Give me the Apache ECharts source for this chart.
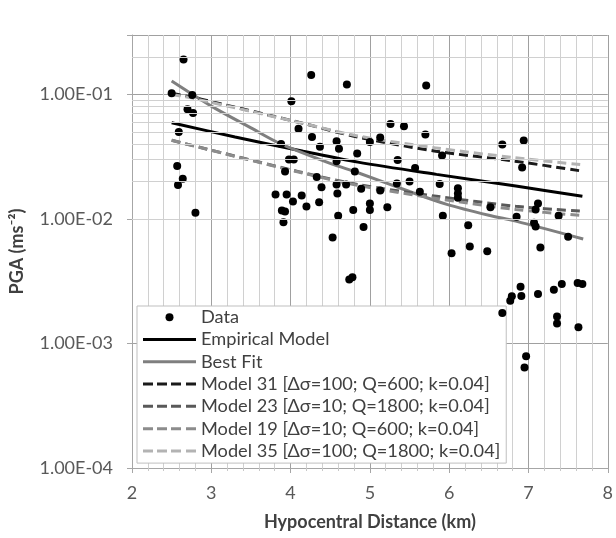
<!DOCTYPE html>
<html><head><meta charset="utf-8">
<script src="https://cdn.jsdelivr.net/npm/echarts@6/dist/echarts.min.js"></script>
<style>html,body{margin:0;padding:0;background:#fff}#c{width:616px;height:538px}</style>
</head><body><div id="c"></div>
<script>
// ---- data ----
const dataX = [2.65,2.50,2.76,2.70,2.77,2.59,2.57,2.64,2.58,2.80,
  4.01,4.10,3.88,3.98,4.04,3.93,3.81,3.95,4.03,3.89,3.93,3.91,4.14,
  4.26,4.27,4.37,4.58,4.61,4.58,4.33,4.39,4.58,4.59,4.20,4.36,4.53,4.60,
  4.71,4.84,4.81,4.70,4.89,4.79,5.00,5.13,5.00,5.00,4.92,4.74,4.78,5.13,5.22,5.26,5.34,5.35,
  5.43,5.50,5.57,5.63,5.70,5.71,5.88,5.91,5.92,6.03,6.11,6.11,6.11,6.24,6.26,
  6.48,6.52,6.67,6.94,6.92,6.85,7.07,7.09,7.12,7.09,7.38,7.50,7.15,6.90,6.91,6.79,6.77,
  7.12,7.32,7.42,7.62,7.68,7.36,7.36,7.63,6.97,6.95,6.67];
const dataY = [0.191,0.102,0.099,0.076,0.071,0.050,0.0266,0.021,0.0187,0.0112,
  0.088,0.053,0.040,0.030,0.030,0.024,0.0157,0.0157,0.0138,0.0117,0.0115,0.0094,0.0154,
  0.143,0.0455,0.038,0.042,0.0366,0.029,0.0217,0.018,0.0189,0.016,0.0126,0.0136,0.0071,0.0106,
  0.12,0.0335,0.024,0.0189,0.0175,0.0118,0.0415,0.045,0.0133,0.0118,0.0086,0.00326,0.0034,0.0169,0.0124,0.058,0.0193,0.0298,
  0.0556,0.020,0.0256,0.0165,0.0477,0.118,0.0191,0.0323,0.0106,0.0053,0.0176,0.016,0.0148,0.0089,0.0060,
  0.0055,0.0124,0.0396,0.0427,0.0259,0.0104,0.0093,0.0087,0.0133,0.0119,0.0106,0.0072,0.0059,0.00286,0.0024,0.00239,0.0022,
  0.0025,0.0027,0.0030,0.00306,0.0030,0.00165,0.00145,0.00135,0.00079,0.00064,0.00176];

const empX = [2.50,3.30,4.16,4.85,5.84,6.84,7.68];
const empY = [0.0592,0.0455,0.0350,0.0286,0.0228,0.0184,0.0152];

const bestX = [2.50,3.00,3.50,3.87,4.50,4.85,5.50,5.97,6.50,6.84,7.69];
const bestY = [0.128,0.0805,0.0538,0.0402,0.0279,0.0235,0.0166,0.0131,0.0107,0.0096,0.0069];

const m31X = [2.50,2.77,4.16,4.83,5.83,6.83,7.68];
const m31Y = [0.102,0.0946,0.0585,0.0457,0.0350,0.0291,0.0242];

const m35X = [2.50,2.77,4.16,4.83,5.83,6.83,7.68];
const m35Y = [0.100,0.093,0.0585,0.0466,0.0372,0.0310,0.0272];

const m23X = [2.50,4.10,4.85,5.84,6.84,7.68];
const m23Y = [0.0428,0.0240,0.0189,0.0152,0.01265,0.01153];

const m19X = [2.50,4.10,4.85,5.84,6.84,7.68];
const m19Y = [0.0428,0.0238,0.0186,0.0146,0.0119,0.01065];

const names = ['Data','Empirical Model','Best Fit',
  'Model 31 [\u0394\u03c3=100; Q=600; k=0.04]',
  'Model 23 [\u0394\u03c3=10; Q=1800; k=0.04]',
  'Model 19 [\u0394\u03c3=10; Q=600; k=0.04]',
  'Model 35 [\u0394\u03c3=100; Q=1800; k=0.04]'];

const yMin = 0.0001, yMax = 0.3;
const xMin = 2, xMax = 8;
// minor log gridline positions (2..9 x 10^n)
const minorY = [];
for (let e = -4; e <= -1; e++) for (let m = 2; m <= 9; m++) {
  const v = m * Math.pow(10, e); if (v < yMax * 0.999) minorY.push(v);
}

const pair = (xs, ys) => xs.map((x, i) => [x, ys[i]]);
const FONT = 'Lato';
const SOLID_ICON = 'path://M0,0h53v3h-53z';
const DASH_ICON = 'path://M0,0h10v3h-10z M14,0h10v3h-10z M28,0h10v3h-10z M43,0h10v3h-10z';

function fmt(v) {
  const e = Math.log10(v), r = Math.round(e);
  if (Math.abs(e - r) > 1e-6) return '';
  const a = Math.abs(r);
  return '1.00E' + (r < 0 ? '-' : '+') + (a < 10 ? '0' : '') + a;
}

const lineS = (name, xs, ys, color, type) => ({
  name, type: 'line', data: pair(xs, ys), smooth: 0.3, symbol: 'none',
  lineStyle: { color, width: 3, type: type || 'solid' }, itemStyle: { color }, z: 3
});

const chart = echarts.init(document.getElementById('c'));
chart.setOption({
  animation: false,
  backgroundColor: '#fff',
  textStyle: { fontFamily: FONT },
  grid: { left: 131, right: 4, top: 35, bottom: 70 },
  xAxis: {
    type: 'value', min: xMin, max: xMax, interval: 1,
    name: 'Hypocentral Distance (km)', nameLocation: 'middle', nameGap: 45,
    nameTextStyle: { fontFamily: FONT, fontSize: 18, fontWeight: 'bold', color: '#404040' },
    axisLine: { lineStyle: { color: '#a6a6a6' } },
    axisTick: { show: true, length: 5, lineStyle: { color: '#a6a6a6' } },
    minorTick: { show: true, splitNumber: 5, length: 3, lineStyle: { color: '#c8c8c8' } },
    axisLabel: { fontFamily: FONT, fontSize: 18, color: '#595959', margin: 16 },
    splitLine: { show: true, lineStyle: { color: '#a0a0a0', width: 1 } },
    minorSplitLine: { show: true, lineStyle: { color: '#d0d0d0', width: 1 } }
  },
  yAxis: {
    type: 'log', logBase: 10, min: yMin, max: yMax,
    name: 'PGA (ms\u207B\u00B2)', nameLocation: 'middle', nameGap: 106, nameRotate: 90,
    nameTextStyle: { fontFamily: FONT, fontSize: 18, fontWeight: 'bold', color: '#404040' },
    axisLine: { show: true, lineStyle: { color: '#a6a6a6' } },
    axisTick: { show: true, length: 5, lineStyle: { color: '#a6a6a6' } },
    axisLabel: { fontFamily: FONT, fontSize: 18, color: '#595959', margin: 19, formatter: fmt },
    splitLine: { show: true, lineStyle: { color: '#a0a0a0', width: 1 } }
  },
  legend: {
    orient: 'vertical', left: 137, top: 306,
    backgroundColor: '#fff', borderColor: '#bfbfbf', borderWidth: 1,
    padding: [0, 6, 1, 6], itemGap: 0, itemWidth: 53, itemHeight: 8,
    textStyle: { fontFamily: FONT, fontSize: 18.2, color: '#404040', lineHeight: 22.3 },
    data: [
      { name: names[0], icon: 'circle' },
      { name: names[1], icon: SOLID_ICON },
      { name: names[2], icon: SOLID_ICON },
      { name: names[3], icon: DASH_ICON },
      { name: names[4], icon: DASH_ICON },
      { name: names[5], icon: DASH_ICON },
      { name: names[6], icon: DASH_ICON }
    ]
  },
  series: [
    { type: 'line', data: [], silent: true, z: 1, symbol: 'none',
      markLine: { silent: true, symbol: 'none', label: { show: false },
        lineStyle: { color: '#d0d0d0', width: 1, type: 'solid' },
        data: minorY.map(v => ({ yAxis: v })) } },
    lineS(names[1], empX, empY, '#000000'),
    lineS(names[2], bestX, bestY, '#7f7f7f'),
    lineS(names[3], m31X, m31Y, '#1a1a1a', [9, 5]),
    lineS(names[4], m23X, m23Y, '#595959', [9, 5]),
    lineS(names[5], m19X, m19Y, '#8c8c8c', [9, 5]),
    lineS(names[6], m35X, m35Y, '#b3b3b3', [9, 5]),
    { name: names[0], type: 'scatter', data: pair(dataX, dataY), symbol: 'circle', symbolSize: 8,
      itemStyle: { color: '#000', opacity: 1 }, z: 4 }
  ]
});
</script></body></html>
